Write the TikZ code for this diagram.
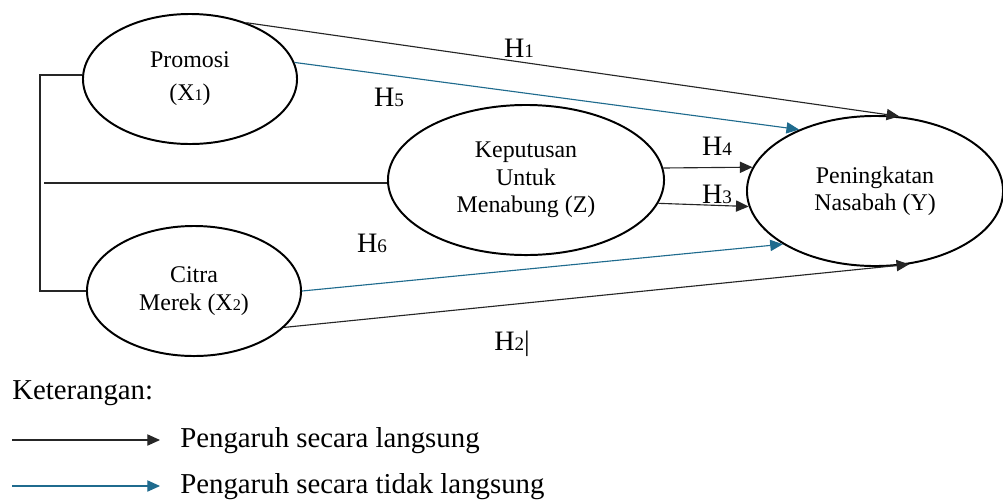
\documentclass[tikz,border=0pt]{standalone}
\usepackage{fontspec}
\setmainfont{Liberation Serif}
\usetikzlibrary{shapes.geometric,arrows.meta}
\definecolor{linkblue}{HTML}{1F6B8E}
\newcommand{\idx}[1]{\scalebox{0.68}{#1}}

\begin{document}
\begin{tikzpicture}[x=0.025cm,y=-0.025cm,>={Triangle[length=9pt,width=8pt]},
    main node/.style={ellipse,draw,line width=1.4pt,inner sep=0pt,align=center,font=\fontsize{17}{19.5}\selectfont},
    hyp/.style={anchor=base,inner sep=0pt,font=\fontsize{20}{24}\selectfont},
    legend text/.style={anchor=base west,inner sep=0pt,font=\fontsize{20.5}{24}\selectfont},
    direct/.style={->,draw=black!85,line width=0.8pt},
    indirect/.style={->,draw=linkblue,line width=0.8pt}]

                    \useasboundingbox (0,0) rectangle (1003,501);

                    \node (1) [main node,minimum width=5.35cm,minimum height=3.25cm] at (190,79) {Promosi\\[4pt](X\idx{1})};
                    \node (2) [main node,minimum width=5.35cm,minimum height=3.25cm] at (194,291) {Citra\\Merek (X\idx{2})};
                    \node (3) [main node,minimum width=6.9cm,minimum height=3.75cm] at (526,180) {Keputusan\\Untuk\\Menabung (Z)};
                    \node (4) [main node,minimum width=6.4cm,minimum height=3.75cm] at (875,191) {Peningkatan\\Nasabah (Y)};

                    \coordinate (b1) at (40,75);
                    \coordinate (b2) at (40,291);
                    \coordinate (b3) at (44,183);

                    \node (h1) [hyp] at (519,57) {H\idx{1}};
                    \node (h5) [hyp] at (389,106) {H\idx{5}};
                    \node (h4) [hyp] at (717,155) {H\idx{4}};
                    \node (h3) [hyp] at (717,203) {H\idx{3}};
                    \node (h6) [hyp] at (372,252) {H\idx{6}};
                    \node (h2) [hyp] at (512,350) {H\idx{2}|};

                    \draw[black!85,line width=0.8pt] (b1 -| 1.west) -- (b1) -- (b2) -- (2.west);
                    \draw[black!85,line width=0.8pt] (b3) -- (b3 -| 3.west);

                    \path
                    (1.45) edge[direct] (4.72)
                    (2.-22) edge[direct] (4.-65)
                    (3.5) edge[direct] (4.169)
                    (3.-10) edge[direct] (4.-173)

                    (1.9) edge[indirect] (4.141)
                    (2.0) edge[indirect] (4.-150)
                        ;

                    \node (ket) [legend text] at (12,399) {Keterangan:};
                    \coordinate (l1) at (12,440);
                    \coordinate (l1e) at (160,440);
                    \coordinate (l2) at (12,486);
                    \coordinate (l2e) at (160,486);
                    \node (t1) [legend text] at (180,447) {Pengaruh secara langsung};
                    \node (t2) [legend text] at (180,493) {Pengaruh secara tidak langsung};

                    \path
                    (l1) edge[direct] (l1e)
                    (l2) edge[indirect] (l2e)
                        ;
                \end{tikzpicture}
\end{document}
